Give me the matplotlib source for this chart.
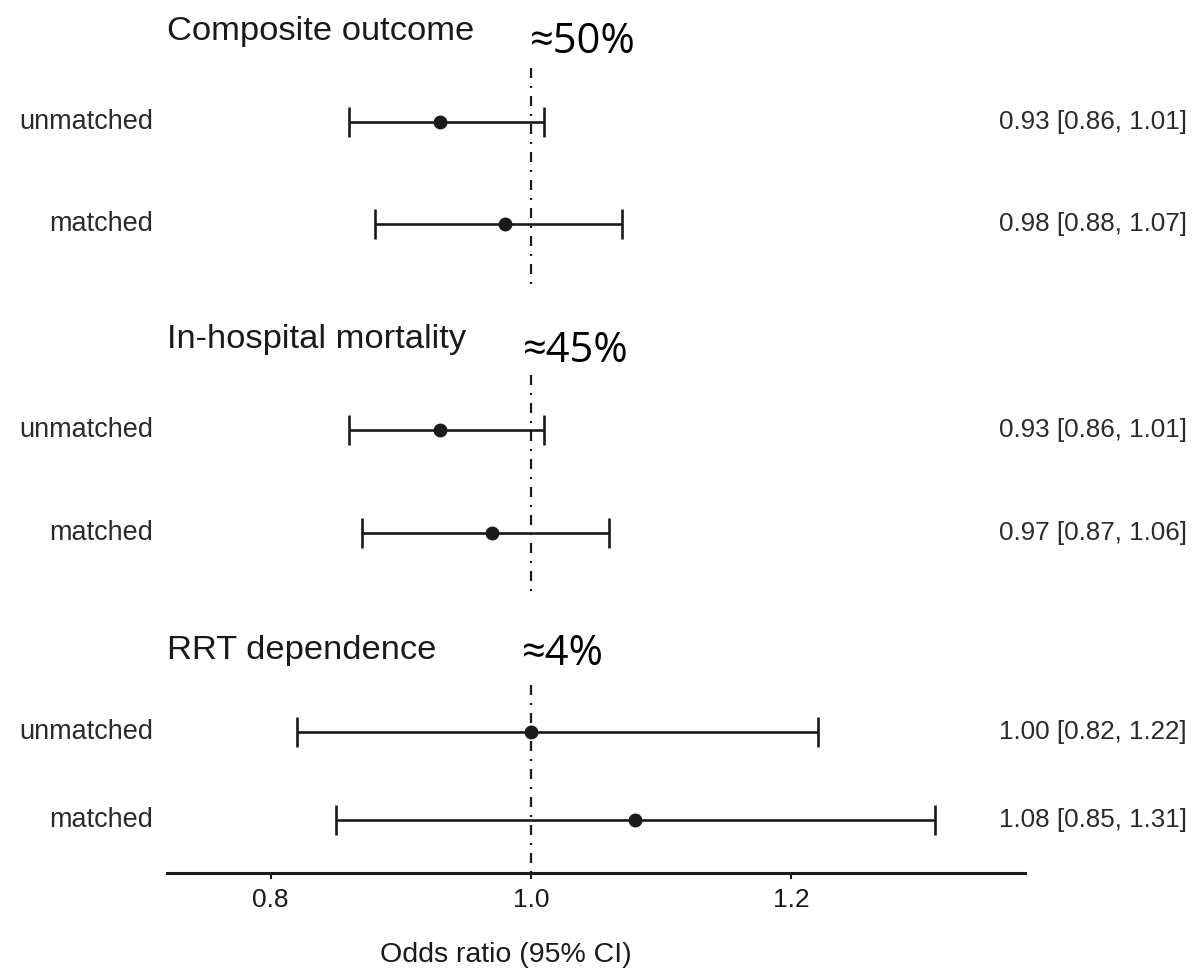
import matplotlib.pyplot as plt
from matplotlib.transforms import blended_transform_factory

# odds ratios with 95% CI, two rows (unmatched / matched) per outcome
groups = ["Composite outcome", "In-hospital mortality", "RRT dependence"]
shares = ["≈50%", "≈45%", "≈4%"]
row_labels = ["unmatched", "matched"] * 3
or_est = [0.93, 0.98, 0.93, 0.97, 1.00, 1.08]
ci_lo = [0.86, 0.88, 0.86, 0.87, 0.82, 0.85]
ci_hi = [1.01, 1.07, 1.01, 1.06, 1.22, 1.31]
xticks = [0.8, 1.0, 1.2]

# layout in pixel rows (figure is 1199 x 972 px, axis line at row 873)
W, H = 1199, 972
row_y = [122, 224, 430, 533, 732, 820]
head_y = [40, 348, 659]
share_y = [53, 362, 665]
share_x = [530, 523, 522]
ref_spans = [(68, 292), (375, 595), (685, 873)]

plt.rcParams['font.family'] = ['Liberation Sans', 'DejaVu Sans']
fig = plt.figure(figsize=(W / 100, H / 100), dpi=100)
ax = fig.add_axes([167 / W, (H - 873) / H, (1025 - 167) / W, 873 / H])
ax.set_xlim(0.7205, 1.3793)
ax.set_ylim(873, 0)

ink = '#1a1a1a'

# reference line at OR = 1, one segment per panel
for top, bottom in ref_spans:
    ax.plot([1.0, 1.0], [top, bottom], color=ink, lw=1.6,
            dashes=(4.5, 3.6, 0.9, 3.6), solid_capstyle='butt')

lo_err = [e - l for e, l in zip(or_est, ci_lo)]
hi_err = [h - e for e, h in zip(or_est, ci_hi)]
ax.errorbar(or_est, row_y, xerr=[lo_err, hi_err], fmt='o', color=ink,
            ms=9, elinewidth=1.9, capsize=10.8, capthick=1.9)

# row labels on the left, estimate text on the right
tr = blended_transform_factory(ax.transAxes, ax.transData)
for y, lab, e, l, h in zip(row_y, row_labels, or_est, ci_lo, ci_hi):
    ax.text((153 - 167) / 858, y, lab, transform=tr, ha='right', va='center',
            fontsize=19.5, color='#2a2a2a')
    ax.text((999 - 167) / 858, y, f"{e:.2f} [{l:.2f}, {h:.2f}]", transform=tr,
            ha='left', va='center', fontsize=18.7, color='#2a2a2a')

for name, hy, share, sx, sy in zip(groups, head_y, shares, share_x, share_y):
    fig.text(167 / W, 1 - hy / H, name, ha='left', va='baseline',
             fontsize=24.8, color=ink)
    fig.text(sx / W, 1 - sy / H, share, ha='left', va='baseline',
             fontsize=30, color='black', family=['Open Sans', 'DejaVu Sans'])

fig.text(380 / W, 1 - 962 / H, "Odds ratio (95% CI)", ha='left',
         va='baseline', fontsize=20.5, color=ink)

for side in ['top', 'right', 'left']:
    ax.spines[side].set_visible(False)
ax.spines['bottom'].set_linewidth(2.2)
ax.spines['bottom'].set_color(ink)
ax.set_yticks([])
ax.set_xticks(xticks)
ax.set_xticklabels([f"{t:.1f}" for t in xticks])
ax.tick_params(axis='x', length=4, width=1.5, pad=6.5, labelsize=19,
               colors=ink)

fig.savefig('out.png', dpi=100)
